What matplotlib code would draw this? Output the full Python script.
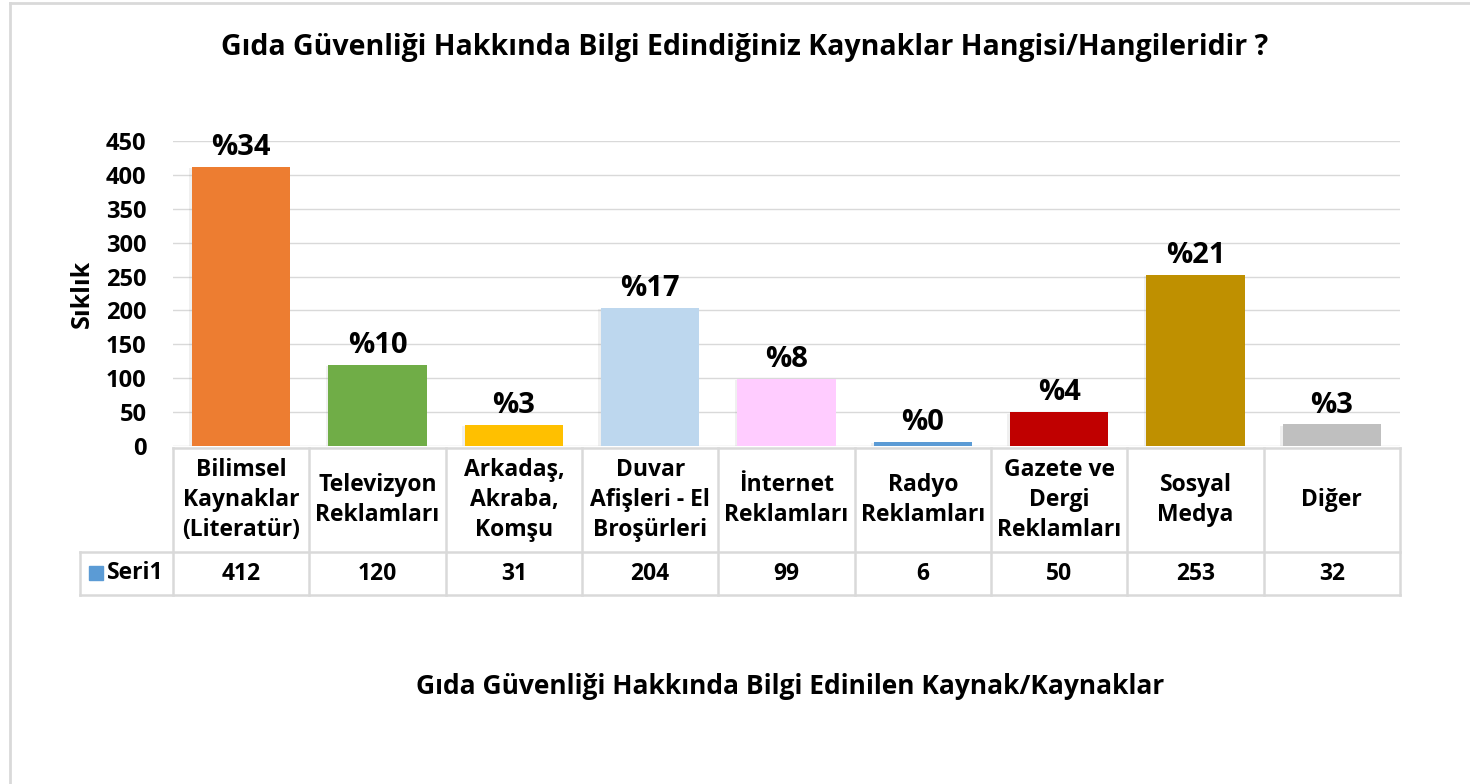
import numpy as np
import matplotlib.pyplot as plt
import matplotlib.patheffects as pe
from matplotlib.lines import Line2D

plt.rcParams['font.family'] = ['Open Sans', 'DejaVu Sans']
plt.rcParams['font.weight'] = 'bold'

categories = ['Bilimsel\nKaynaklar\n(Literatür)', 'Televizyon\nReklamları',
              'Arkadaş,\nAkraba,\nKomşu', 'Duvar\nAfişleri - El\nBroşürleri',
              'İnternet\nReklamları', 'Radyo\nReklamları',
              'Gazete ve\nDergi\nReklamları', 'Sosyal\nMedya', 'Diğer']
values = [412, 120, 31, 204, 99, 6, 50, 253, 32]
percents = [34, 10, 3, 17, 8, 0, 4, 21, 3]
colors = ['#ED7D31', '#70AD47', '#FFC000', '#BDD7EE', '#FFCCFF',
          '#5B9BD5', '#C00000', '#BF9000', '#BFBFBF']
series_name = 'Seri1'

W, H = 1470, 784
fig = plt.figure(figsize=(W / 100, H / 100), dpi=100)

# axes in pixel terms
x0, x1 = 173, 1400
y_top, y_bot = 141, 446
ax = fig.add_axes([x0 / W, 1 - y_bot / H, (x1 - x0) / W, (y_bot - y_top) / H])

n = len(values)
x = np.arange(n)
bars = ax.bar(x, values, width=0.72, color=colors, zorder=3)
for b in bars:
    b.set_path_effects([pe.SimplePatchShadow(offset=(-2, -1), shadow_rgbFace='#888888', alpha=0.12),
                        pe.Normal()])

for xi, v, p in zip(x, values, percents):
    ax.text(xi, v + 7, f'%{p}', ha='center', va='bottom', fontsize=21, fontweight='bold')

ax.set_xlim(-0.5, n - 0.5)
ax.set_ylim(0, 450)
ax.set_yticks(np.arange(0, 451, 50))
ax.tick_params(axis='y', length=0, labelsize=17, pad=19)
ax.tick_params(axis='x', length=0, labelbottom=False)
for t in ax.get_yticklabels():
    t.set_fontweight('bold')
ax.grid(axis='y', color='#D9D9D9', linewidth=1, zorder=0)
for s in ax.spines.values():
    s.set_visible(False)

ax.set_ylabel('Sıklık', fontsize=18, fontweight='bold', labelpad=8)

# data table under the axis
ph = y_bot - y_top
def ay(py):
    return (y_bot - py) / ph

row1_top, row1_bot, row2_bot = 448, 552, 595
lc = '#D9D9D9'
tr = ax.get_xaxis_transform()
left_cell = -0.5 - (x0 - 80) / ((x1 - x0) / n)

def hline(xa, xb, py):
    ax.add_line(Line2D([xa, xb], [ay(py), ay(py)], transform=tr, color=lc, lw=1.8, clip_on=False))

def vline(xv, pa, pb):
    ax.add_line(Line2D([xv, xv], [ay(pa), ay(pb)], transform=tr, color=lc, lw=1.8, clip_on=False))

hline(-0.5, n - 0.5, row1_top)
hline(left_cell, n - 0.5, row1_bot)
hline(left_cell, n - 0.5, row2_bot)
for k in range(n + 1):
    vline(k - 0.5, row1_top, row2_bot)
vline(left_cell, row1_bot, row2_bot)

cy1 = ay((row1_top + row1_bot) / 2)
cy2 = ay((row1_bot + row2_bot) / 2)
for xi, c, v in zip(x, categories, values):
    ax.text(xi, cy1, c, transform=tr, ha='center', va='center', fontsize=16.5,
            fontweight='bold', linespacing=1.35)
    ax.text(xi, cy2, str(v), transform=tr, ha='center', va='center', fontsize=16.5,
            fontweight='bold')

# legend key + series name
fig.text(107 / W, 1 - 573 / H, series_name, ha='left', va='center', fontsize=16.5, fontweight='bold')
fig.patches.append(plt.Rectangle((89 / W, 1 - 580 / H), 14 / W, 14 / H, transform=fig.transFigure,
                                 color='#5B9BD5'))

fig.text(745 / W, 1 - 48 / H, 'Gıda Güvenliği Hakkında Bilgi Edindiğiniz Kaynaklar Hangisi/Hangileridir ?',
         ha='center', va='center', fontsize=20.5, fontweight='bold')
fig.text(790 / W, 1 - 687 / H, 'Gıda Güvenliği Hakkında Bilgi Edinilen Kaynak/Kaynaklar',
         ha='center', va='center', fontsize=19, fontweight='bold')

# chart area border
fig.add_artist(Line2D([10 / W, 10 / W], [0, 1 - 3 / H], transform=fig.transFigure, color=lc, lw=2))
fig.add_artist(Line2D([10 / W, 1], [1 - 3 / H, 1 - 3 / H], transform=fig.transFigure, color=lc, lw=2))

fig.savefig('out.png', dpi=100)
